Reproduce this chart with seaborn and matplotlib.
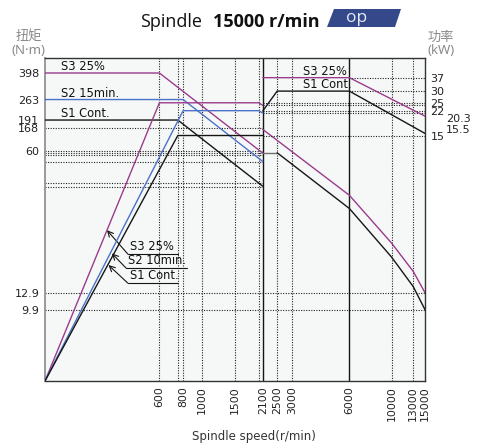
import numpy as np
import matplotlib
matplotlib.use("Agg")
import matplotlib.pyplot as plt
import seaborn as sns
from matplotlib.patches import Polygon
from matplotlib.ticker import FixedLocator, FixedFormatter, NullLocator

# ---- data ----
# low speed winding, torque (N·m)
spd_t_s3_lo = [0, 600, 2100]
trq_s3_lo = [398, 398, 114]
spd_t_s2_lo = [0, 800, 2100]
trq_s2_lo = [263, 263, 100]
spd_t_s1_lo = [0, 750, 2100]
trq_s1_lo = [191, 191, 68]

# low speed winding, power (kW)
spd_p_s3_lo = [0, 600, 2000, 2100]
pwr_s3_lo = [0, 25, 25, 24]
spd_p_s2_lo = [0, 800, 2000, 2100]
pwr_s2_lo = [0, 22.1, 22.1, 21.3]
spd_p_s1_lo = [0, 750, 2100]
pwr_s1_lo = [0, 15, 15]

# high speed winding, power (kW)
spd_p_s3_hi = [2100, 6000, 15000]
pwr_s3_hi = [37, 37, 20.3]
spd_p_s1_hi = [2100, 2500, 6000, 15000]
pwr_s1_hi = [22, 30, 30, 15.5]

# high speed winding, torque (N·m)
spd_t_s3_hi = [2100, 6000, 10000, 13000, 15000]
trq_s3_hi = [165, 59, 28, 18, 12.9]
spd_t_s1_flat = [2100, 2500]
trq_s1_flat = [114.6, 114.6]
spd_t_s1_hi = [2500, 6000, 10000, 13000, 15000]
trq_s1_hi = [114.6, 48, 22.5, 14.2, 9.9]

# ticks
speed_ticks = [600, 800, 1000, 1500, 2100, 2500, 3000, 6000, 10000, 13000, 15000]
torque_ticks = [398, 263, 191, 168, 118, 12.9, 9.9]
torque_labels = ["398", "263", "191", "168", "60", "12.9", "9.9"]
power_ticks = [37, 30, 25, 22, 15]
power_end_labels = [20.3, 15.5]

# reference lines
grid_speed_dotted = [600, 750, 800, 1000, 1500, 2000, 2500, 3000, 10000, 13000]
grid_speed_solid = [2100, 6000]
grid_torque_lo = [168, 118, 115, 111, 99, 71, 67]   # 0 .. 2100 r/min
grid_torque_full = [12.9, 9.9]
grid_power_hi = [25, 24, 22.1, 21.3, 15]              # 2100 .. 15000 r/min
grid_power_top = [37, 30]                             # 6000 .. 15000 r/min

MAG = "#9a3b8c"
BLUE = "#4a72c8"
BLK = "#151515"
GRAY = "#707070"


def log_from(lo):
    # log axis where anything below the limit (speed 0, power 0) sits on the edge
    def fwd(v):
        return np.log10(np.clip(np.asarray(v, dtype=float), lo, None))

    def inv(v):
        return np.power(10.0, v)
    return fwd, inv


sns.set_style("white")
plt.rcParams["font.family"] = ["DejaVu Sans", "Noto Sans CJK SC"]

fig = plt.figure(figsize=(4.89, 4.48), dpi=100)
ax = fig.add_axes([45 / 489, 1 - 381 / 448, 380 / 489, 323 / 448])
ax.set_facecolor("#f6f8f8")
ax.set_xscale("function", functions=log_from(150))
ax.set_yscale("function", functions=log_from(3.25))
ax.set_xlim(150, 15000)
ax.set_ylim(3.25, 503)

ax2 = ax.twinx()
ax2.set_yscale("function", functions=log_from(0.325))
ax2.set_ylim(0.325, 50.3)

dot = dict(color="#222222", lw=0.8, linestyle=(0, (1, 1.3)), zorder=1)
for s in grid_speed_dotted:
    ax.axvline(s, **dot)
for s in grid_speed_solid:
    ax.axvline(s, color=BLK, lw=1.0, zorder=2)
ax.hlines(grid_torque_lo, 0, 2100, **dot)
ax.hlines(grid_torque_full, 0, 15000, **dot)
ax2.hlines(grid_power_hi, 2100, 15000, **dot)
ax2.hlines(grid_power_top, 6000, 15000, **dot)


def curve(a, x, y, color):
    sns.lineplot(x=x, y=y, ax=a, color=color, lw=1.0, sort=False,
                 estimator=None, zorder=4)


curve(ax, spd_t_s3_lo, trq_s3_lo, MAG)
curve(ax, spd_t_s2_lo, trq_s2_lo, BLUE)
curve(ax, spd_t_s1_lo, trq_s1_lo, BLK)
curve(ax, spd_t_s3_hi, trq_s3_hi, MAG)
curve(ax, spd_t_s1_flat, trq_s1_flat, GRAY)
curve(ax, spd_t_s1_hi, trq_s1_hi, BLK)
curve(ax2, spd_p_s3_lo, pwr_s3_lo, MAG)
curve(ax2, spd_p_s2_lo, pwr_s2_lo, BLUE)
curve(ax2, spd_p_s1_lo, pwr_s1_lo, BLK)
curve(ax2, spd_p_s3_hi, pwr_s3_hi, MAG)
curve(ax2, spd_p_s1_hi, pwr_s1_hi, BLK)

# axes, ticks
ax.xaxis.set_major_locator(FixedLocator(speed_ticks))
ax.xaxis.set_major_formatter(FixedFormatter([str(s) for s in speed_ticks]))
ax.xaxis.set_minor_locator(NullLocator())
ax.yaxis.set_major_locator(FixedLocator(torque_ticks))
ax.yaxis.set_major_formatter(FixedFormatter(torque_labels))
ax.yaxis.set_minor_locator(NullLocator())
ax2.yaxis.set_major_locator(FixedLocator(power_ticks))
ax2.yaxis.set_major_formatter(FixedFormatter([str(p) for p in power_ticks]))
ax2.yaxis.set_minor_locator(NullLocator())

ax.tick_params(axis="x", length=0, pad=4, labelsize=7.8, rotation=90, labelcolor="#222")
ax.tick_params(axis="y", length=0, pad=4, labelsize=8, labelcolor="#222")
ax2.tick_params(axis="y", length=0, pad=4, labelsize=8, labelcolor="#222")
ax.set_xlabel("")
ax.set_ylabel("")
ax2.set_ylabel("")

for side in ["top", "right", "bottom"]:
    ax.spines[side].set_color("#333333")
    ax.spines[side].set_linewidth(1.0)
ax.spines["left"].set_color("#9a9a9a")
ax.spines["left"].set_linewidth(1.4)
for sp in ax2.spines.values():
    sp.set_visible(False)

# end values at 15000 r/min, set slightly off the tick column
for v, dy in zip(power_end_labels, [-2.0, 2.5]):
    ax2.annotate(f"{v}", xy=(1.0, v), xycoords=("axes fraction", "data"),
                 xytext=(15, dy), textcoords="offset points",
                 ha="left", va="center", fontsize=8, color="#222")

# curve names
lab = dict(fontsize=8.3, color="#111", ha="left", va="bottom")
for txt, val in [("S3 25%", 398), ("S2 15min.", 263), ("S1 Cont.", 191)]:
    ax.annotate(txt, xy=(0.042, val), xycoords=("axes fraction", "data"), **lab)
for txt, val in [("S3 25%", 37), ("S1 Cont.", 30)]:
    ax2.annotate(txt, xy=(0.679, val), xycoords=("axes fraction", "data"), **lab)

# arrow labels on the rising power lines
arrow_labels = [
    ("S3 25%", (0.163, 0.467), (0.218, 0.393), 0.350),
    ("S2 10min.", (0.176, 0.395), (0.213, 0.350), 0.374),
    ("S1 Cont.", (0.167, 0.359), (0.218, 0.303), 0.350),
]
for txt, tip, base, right in arrow_labels:
    ax.annotate("", xy=tip, xycoords="axes fraction", xytext=base,
                textcoords="axes fraction",
                arrowprops=dict(arrowstyle="->", lw=0.8, color=BLK,
                                shrinkA=0, shrinkB=0), zorder=6)
    ax.plot([base[0], right], [base[1], base[1]], transform=ax.transAxes,
            color=BLK, lw=0.8, zorder=6)
    ax.text(base[0] + 0.006, base[1] + 0.004, txt, transform=ax.transAxes,
            fontsize=8.3, color="#111", ha="left", va="bottom", zorder=6)

# title with badge
fig.text(140 / 489, 1 - 27 / 448, "Spindle", family="Open Sans", fontsize=13,
         va="baseline", ha="left", color="#111")
fig.text(213 / 489, 1 - 27 / 448, "15000 r/min", family="Open Sans", fontsize=13,
         fontweight="bold", va="baseline", ha="left", color="#111")
badge = [(327, 27), (334, 9), (401, 9), (395, 27)]
fig.patches.append(Polygon([(x / 489, 1 - y / 448) for x, y in badge], closed=True,
                           transform=fig.transFigure, facecolor="#34488a",
                           edgecolor="none"))
fig.text(357 / 489, 1 - 18.5 / 448, "op", family="Open Sans", fontsize=12.5,
         va="center", ha="center", color="#e6ecf8")

# axis titles
cjk = ["Noto Sans CJK SC", "DejaVu Sans"]
latin = ["Noto Sans", "DejaVu Sans"]
fig.text(29 / 489, 1 - 37 / 448, "扭矩", family=cjk, fontsize=9.5, color="#8a8a8a",
         ha="center", va="center")
fig.text(29 / 489, 1 - 51 / 448, "(N·m)", family=latin, fontsize=9.5, color="#8a8a8a",
         ha="center", va="center")
fig.text(441 / 489, 1 - 37 / 448, "功率", family=cjk, fontsize=9.5, color="#8a8a8a",
         ha="center", va="center")
fig.text(441 / 489, 1 - 51 / 448, "(kW)", family=latin, fontsize=9.5, color="#8a8a8a",
         ha="center", va="center")
fig.text(254 / 489, 1 - 436 / 448, "Spindle speed(r/min)", fontsize=8.5,
         color="#333", ha="center", va="center")

fig.savefig("out.png", dpi=100)
